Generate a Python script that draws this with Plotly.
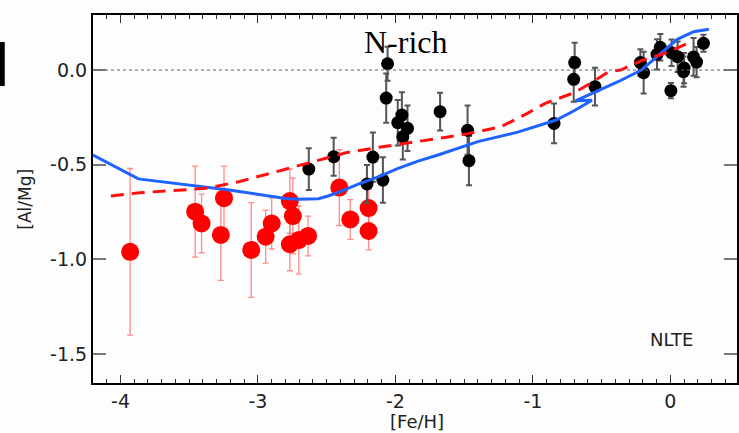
import plotly.graph_objects as go

# ---- data ----
red_feh = [-3.93, -3.457, -3.41, -3.27, -3.247, -3.049, -2.944, -2.90, -2.768, -2.746,
           -2.768, -2.703, -2.635, -2.408, -2.328, -2.195, -2.195]
red_almg = [-0.96, -0.748, -0.81, -0.871, -0.677, -0.950, -0.88, -0.81, -0.692, -0.771,
            -0.920, -0.898, -0.876, -0.621, -0.789, -0.729, -0.85]
red_err = [0.44, 0.24, 0.155, 0.24, 0.17, 0.25, 0.14, 0.135, 0.17, 0.2,
           0.14, 0.18, 0.105, 0.2, 0.105, 0.1, 0.1]

blk_feh = [-2.630, -2.449, -2.207, -2.164, -2.091, -2.057, -2.067, -1.953, -1.983, -1.912,
           -1.946, -1.675, -1.475, -1.465, -0.846, -0.696, -0.703, -0.548, -0.218, -0.194,
           -0.097, -0.073, 0.009, 0.053, 0.004, 0.100, 0.096, 0.169, 0.191, 0.241]
blk_almg = [-0.523, -0.458, -0.602, -0.460, -0.581, 0.033, -0.148, -0.238, -0.278, -0.308,
            -0.352, -0.220, -0.318, -0.479, -0.282, 0.039, -0.049, -0.088, 0.039, -0.014,
            0.083, 0.120, 0.091, 0.070, -0.109, 0.010, -0.009, 0.069, 0.042, 0.141]
blk_err = [0.11, 0.10, 0.10, 0.13, 0.12, 0.09, 0.13, 0.12, 0.12, 0.12,
           0.12, 0.10, 0.13, 0.13, 0.105, 0.105, 0.118, 0.10, 0.07, 0.11,
           0.08, 0.07, 0.07, 0.08, 0.04, 0.08, 0.08, 0.10, 0.08, 0.045]

model_solid_feh = [-4.2, -3.87, -3.21, -3.04, -2.80, -2.70, -2.56, -2.49, -2.41, -2.27,
                   -2.12, -1.98, -1.83, -1.69, -1.54, -1.40, -1.11, -0.83, -0.70, -0.57,
                   -0.69, -0.585, -0.38, -0.21, -0.07, 0.05, 0.17, 0.28]
model_solid_almg = [-0.449, -0.575, -0.634, -0.651, -0.678, -0.683, -0.680, -0.665, -0.645, -0.603,
                    -0.563, -0.519, -0.480, -0.449, -0.413, -0.378, -0.328, -0.264, -0.215, -0.160,
                    -0.163, -0.130, -0.062, 0.0, 0.088, 0.162, 0.202, 0.215]

model_dash_feh = [-4.07, -3.86, -3.38, -3.14, -2.80, -2.56, -2.36, -2.12, -1.88, -1.64,
                  -1.47, -1.23, -1.04, -0.91, -0.70, -0.58, -0.45, -0.36, -0.21, -0.04, 0.14]
model_dash_almg = [-0.665, -0.648, -0.625, -0.590, -0.524, -0.475, -0.437, -0.408, -0.384, -0.356,
                   -0.336, -0.299, -0.229, -0.176, -0.120, -0.070, -0.009, 0.0, 0.05, 0.088, 0.145]

x_ticks = [-4, -3, -2, -1, 0]
x_ticklabels = ["-4", "-3", "-2", "-1", "0"]
y_ticks = [0.0, -0.5, -1.0, -1.5]
y_ticklabels = ["0.0", "-0.5", "-1.0", "-1.5"]

FONT = "DejaVu Sans"

fig = go.Figure()

fig.add_trace(go.Scatter(
    x=red_feh, y=red_almg, mode="markers",
    marker=dict(color="#ff0000", size=18, line=dict(width=0)),
    error_y=dict(type="data", array=red_err, color="rgba(255,100,100,0.75)", thickness=1.3, width=3),
    showlegend=False))

fig.add_trace(go.Scatter(
    x=blk_feh, y=blk_almg, mode="markers",
    marker=dict(color="#000000", size=13, line=dict(width=0)),
    error_y=dict(type="data", array=blk_err, color="#555555", thickness=2, width=3),
    showlegend=False))

fig.add_trace(go.Scatter(
    x=model_solid_feh, y=model_solid_almg, mode="lines",
    line=dict(color="#1f63ff", width=3), showlegend=False))

fig.add_trace(go.Scatter(
    x=model_dash_feh, y=model_dash_almg, mode="lines",
    line=dict(color="#ff1010", width=3, dash="13px,8px"), showlegend=False))

# dotted zero line
fig.add_hline(y=0, line=dict(color="#666666", width=1.2, dash="dot"))

fig.update_xaxes(
    range=[-4.2, 0.485], showgrid=False, zeroline=False,
    showline=True, linecolor="black", linewidth=2, mirror="allticks",
    ticks="inside", ticklen=8, tickwidth=1.2, tickcolor="#333333",
    tickvals=x_ticks, ticktext=x_ticklabels,
    tickfont=dict(family=FONT, size=19, color="#222222"),
    minor=dict(dtick=0.1, ticks="inside", ticklen=4, tickcolor="#333333", tickwidth=1),
)
fig.update_yaxes(
    range=[-1.6526, 0.2904], showgrid=False, zeroline=False,
    showline=True, linecolor="black", linewidth=2, mirror="allticks",
    ticks="inside", ticklen=13, tickwidth=1.5, tickcolor="#777777",
    tickvals=y_ticks, ticktext=y_ticklabels,
    tickfont=dict(family=FONT, size=19, color="#222222"),
)

fig.add_annotation(text="N-rich", x=-1.92, y=0.148, xref="x", yref="y",
                   showarrow=False, font=dict(family="Liberation Serif", size=32, color="black"))
fig.add_annotation(text="NLTE", x=0.01, y=-1.425, xref="x", yref="y",
                   showarrow=False, font=dict(family=FONT, size=18, color="#222222"))
fig.add_annotation(text="[Al/Mg]", x=-0.106, y=0.5, xref="paper", yref="paper",
                   xanchor="center", yanchor="middle",
                   textangle=-90, showarrow=False,
                   font=dict(family=FONT, size=17, color="#222222"))
fig.add_annotation(text="[Fe/H]", x=0.503, y=-0.105, xref="paper", yref="paper",
                   xanchor="center", yanchor="middle",
                   showarrow=False, font=dict(family=FONT, size=18, color="#222222"))

fig.add_shape(type="rect", xref="paper", yref="paper", x0=-0.15, x1=-0.137,
              y0=0.807, y1=0.9266, fillcolor="black", line=dict(width=0))

fig.update_layout(
    width=739, height=433,
    margin=dict(l=93, r=0, t=15, b=50),
    paper_bgcolor="#fdfdfd", plot_bgcolor="#fdfdfd",
)

fig.write_html("out.html", config={"displayModeBar": False},
               post_script="document.body.style.margin='0';document.body.style.overflow='hidden';")
